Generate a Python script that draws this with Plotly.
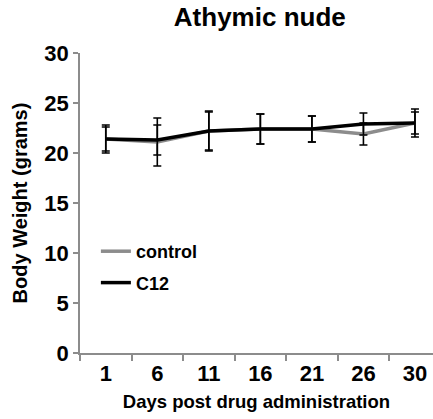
import plotly.graph_objects as go

days = ["1", "6", "11", "16", "21", "26", "30"]
control_mean = [21.4, 21.1, 22.2, 22.4, 22.4, 21.9, 23.0]
control_err = [1.2, 2.4, 2.0, 1.5, 1.3, 1.1, 1.4]
c12_mean = [21.4, 21.3, 22.2, 22.4, 22.4, 22.9, 23.0]
c12_err = [1.4, 1.5, 1.9, 1.5, 1.3, 1.1, 1.1]

FONT = "Liberation Sans, Arial, sans-serif"
x = list(range(len(days)))

fig = go.Figure()

fig.add_trace(go.Scatter(
    x=x, y=control_mean,
    mode="lines",
    name="control",
    legendgroup="a",
    line=dict(color="#8c8c8c", width=3.5),
    error_y=dict(type="data", array=control_err, color="black", thickness=1.6, width=4),
))
fig.add_trace(go.Scatter(
    x=x, y=c12_mean,
    mode="lines",
    name="C12",
    legendgroup="b",
    line=dict(color="black", width=3.5),
    error_y=dict(type="data", array=c12_err, color="black", thickness=1.6, width=4),
))

fig.update_layout(
    width=433, height=419,
    paper_bgcolor="white",
    plot_bgcolor="white",
    margin=dict(l=80, r=0, t=53, b=66),
    title=dict(
        text="Athymic nude",
        x=0.6, xanchor="center", y=0.96, yanchor="middle",
        font=dict(family=FONT, size=26, color="black", weight="bold"),
    ),
    font=dict(family=FONT, color="black"),
    showlegend=True,
    legend=dict(
        x=0.045, y=0.40, xanchor="left", yanchor="top",
        font=dict(family=FONT, size=18, color="black", weight="bold"),
        traceorder="grouped", tracegroupgap=5,
        bgcolor="rgba(0,0,0,0)",
    ),
    xaxis=dict(
        range=[-0.5, 6.35],
        tickvals=x, ticktext=days,
        ticks="",
        showgrid=False, zeroline=False,
        showline=True, linecolor="#8c8c8c", linewidth=1.5,
        tickfont=dict(family=FONT, size=22, color="black", weight="bold"),
        minor=dict(tick0=0.5, dtick=1, ticks="outside", ticklen=6, tickcolor="#8c8c8c", tickwidth=1.5, showgrid=False),
        title=dict(text="Days post drug administration", standoff=10,
                   font=dict(family=FONT, size=18.5, color="black", weight="bold")),
    ),
    yaxis=dict(
        range=[0, 30], dtick=5,
        ticks="outside", ticklen=5, tickcolor="#8c8c8c", tickwidth=1.5,
        showgrid=False, zeroline=False,
        showline=True, linecolor="#8c8c8c", linewidth=1.5,
        tickfont=dict(family=FONT, size=22, color="black", weight="bold"),
        title=dict(text="Body Weight (grams)", standoff=11,
                   font=dict(family=FONT, size=20, color="black", weight="bold")),
    ),
)

# drop the default body margin so the figure fills the window exactly
fig.write_html(
    "out.html",
    config={"displayModeBar": False},
    post_script="document.body.style.margin='0';",
)
